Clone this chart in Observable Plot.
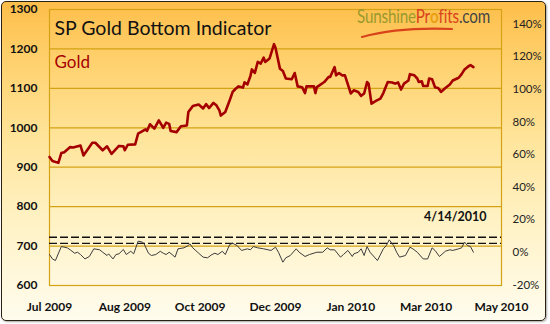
<!DOCTYPE html>
<html><head><meta charset="utf-8">
<script src="https://cdn.jsdelivr.net/npm/d3@7"></script>
<script src="https://cdn.jsdelivr.net/npm/@observablehq/plot@0.6"></script>
<style>
html,body{margin:0;padding:0;background:#fff;}
#wrap{position:relative;width:550px;height:324px;overflow:hidden;font-family:Lato,"Open Sans",sans-serif;}
#bg{position:absolute;left:1px;top:1px;width:543px;height:318px;border:1.5px solid #2b2110;border-radius:5px;
 background:linear-gradient(180deg,#FDBE4A 0%,#FFD270 20%,#FFE69E 45%,#FFF3C9 72%,#FFFCEE 100%);
 box-shadow:1px 1px 2px rgba(0,0,0,.35);}
#chart{position:absolute;left:0;top:0;}
#chart svg{overflow:visible;background:transparent;}
#logo{position:absolute;left:357px;top:6px;font-size:19px;line-height:20px;white-space:nowrap;transform:scaleX(0.8);transform-origin:left top;letter-spacing:-0.2px;}
#swoosh{position:absolute;left:360px;top:26px;}
</style></head>
<body><div id="wrap"><div id="bg"></div><div id="chart"></div>
<div id="logo"><span style="color:#9a9a2c">Sunshine</span><span style="color:#d8431c">Pr</span><span style="color:#e9a010;font-weight:bold">o</span><span style="color:#d8431c">fits</span><span style="color:#444">.com</span></div>
<svg id="swoosh" width="100" height="14"><path d="M2,11 Q38,1 92,3" fill="none" stroke="#d8431c" stroke-width="2.2" stroke-linecap="round"/></svg>
</div>
<script>
const goldDates = ["2009-07-01","2009-07-03","2009-07-07","2009-07-09","2009-07-11","2009-07-15","2009-07-17","2009-07-22","2009-07-24","2009-07-30","2009-08-01","2009-08-06","2009-08-09","2009-08-12","2009-08-17","2009-08-20","2009-08-21","2009-08-23","2009-08-28","2009-08-30","2009-09-04","2009-09-05","2009-09-07","2009-09-10","2009-09-13","2009-09-16","2009-09-18","2009-09-20","2009-09-21","2009-09-25","2009-09-28","2009-10-02","2009-10-03","2009-10-06","2009-10-10","2009-10-13","2009-10-15","2009-10-17","2009-10-20","2009-10-22","2009-10-24","2009-10-25","2009-10-28","2009-10-31","2009-11-02","2009-11-04","2009-11-06","2009-11-09","2009-11-10","2009-11-12","2009-11-14","2009-11-15","2009-11-17","2009-11-19","2009-11-21","2009-11-23","2009-11-24","2009-11-27","2009-11-30","2009-12-01","2009-12-04","2009-12-06","2009-12-08","2009-12-12","2009-12-14","2009-12-16","2009-12-19","2009-12-21","2009-12-22","2009-12-27","2009-12-28","2009-12-29","2010-01-03","2010-01-06","2010-01-07","2010-01-10","2010-01-11","2010-01-13","2010-01-15","2010-01-17","2010-01-21","2010-01-23","2010-01-26","2010-01-28","2010-01-30","2010-02-01","2010-02-02","2010-02-04","2010-02-07","2010-02-10","2010-02-12","2010-02-15","2010-02-18","2010-02-20","2010-02-22","2010-02-24","2010-02-26","2010-03-01","2010-03-02","2010-03-05","2010-03-07","2010-03-08","2010-03-10","2010-03-11","2010-03-14","2010-03-15","2010-03-17","2010-03-19","2010-03-21","2010-03-22","2010-03-23","2010-03-26","2010-03-29","2010-03-31","2010-04-04","2010-04-06","2010-04-08","2010-04-11","2010-04-12","2010-04-14"];
const goldValues = [926,916,911,936,938,951,950,955,930,962,962,943,953,934,954,953,943,957,958,985,996,992,1009,998,1019,1000,1013,1010,992,989,1004,1006,1040,1055,1059,1049,1060,1050,1063,1057,1044,1031,1040,1070,1091,1099,1105,1102,1115,1110,1131,1148,1139,1167,1163,1178,1167,1176,1212,1203,1150,1144,1125,1123,1139,1105,1103,1088,1105,1105,1088,1103,1116,1129,1129,1154,1133,1139,1133,1133,1087,1095,1091,1081,1087,1116,1112,1061,1068,1074,1088,1116,1115,1112,1115,1097,1112,1120,1136,1133,1125,1116,1118,1106,1106,1125,1123,1103,1101,1097,1091,1101,1110,1120,1127,1136,1148,1157,1159,1154];

const oscDates = ["2009-07-01","2009-07-03","2009-07-05","2009-07-09","2009-07-13","2009-07-15","2009-07-18","2009-07-20","2009-07-22","2009-07-25","2009-07-28","2009-07-31","2009-08-04","2009-08-06","2009-08-09","2009-08-10","2009-08-13","2009-08-15","2009-08-17","2009-08-20","2009-08-22","2009-08-25","2009-08-27","2009-08-30","2009-09-02","2009-09-03","2009-09-06","2009-09-08","2009-09-11","2009-09-14","2009-09-16","2009-09-18","2009-09-20","2009-09-22","2009-09-24","2009-09-26","2009-09-30","2009-10-03","2009-10-04","2009-10-06","2009-10-10","2009-10-13","2009-10-16","2009-10-19","2009-10-21","2009-10-23","2009-10-26","2009-10-28","2009-10-31","2009-11-02","2009-11-05","2009-11-08","2009-11-12","2009-11-14","2009-11-16","2009-11-19","2009-11-23","2009-11-28","2009-12-01","2009-12-03","2009-12-06","2009-12-08","2009-12-11","2009-12-15","2009-12-17","2009-12-21","2009-12-24","2009-12-29","2010-01-02","2010-01-05","2010-01-07","2010-01-10","2010-01-14","2010-01-16","2010-01-19","2010-01-22","2010-01-23","2010-01-26","2010-01-28","2010-01-30","2010-02-01","2010-02-03","2010-02-08","2010-02-12","2010-02-14","2010-02-16","2010-02-19","2010-02-21","2010-02-23","2010-02-27","2010-03-02","2010-03-04","2010-03-07","2010-03-11","2010-03-14","2010-03-17","2010-03-19","2010-03-22","2010-03-26","2010-03-29","2010-03-31","2010-04-04","2010-04-06","2010-04-08","2010-04-10","2010-04-12","2010-04-14"];
const oscValues = [-1.3,-4,-5,3.6,2.8,1.6,-0.5,0.1,-1.3,-4,-2.5,2.2,1.6,0.1,-1.9,-0.9,-4,-1.3,-0.9,1.8,-1.3,0.7,-0.9,6.9,6.3,5.3,-0.5,-1.9,-1.3,0.7,-0.5,-1.3,0.1,-1.3,-2.9,2.2,2.8,4.2,5.3,2.8,-0.5,-2.9,-3.3,-1.3,-0.5,-1.3,0.7,-1.3,4.8,5.6,4.2,1.2,2.2,1.6,3.6,2.8,2.2,1.2,3.2,0.1,-6,-3.3,-1.9,2.2,0.1,-2.5,-1.3,0.1,0.1,2.8,1.6,1.6,-2.9,-1.3,1.2,-2.5,-0.9,0.1,2.2,-1.9,3.6,0.1,-5,2.2,4.2,7.7,4.2,0.1,-2.9,-1.9,3.2,2.2,0.1,-4,-4,2.8,1.2,-2.5,0.7,1.6,1.2,2.2,2.8,6.3,4.2,3.6,0.1];

const thresholds = [9.3, 5.5];
const leftTicks = [600,700,800,900,1000,1100,1200,1300];
const rightTicks = [-20,0,20,40,60,80,100,120,140];
const xTickDates = ["2009-07-01","2009-08-21","2009-10-11","2009-12-01","2010-01-21","2010-03-13","2010-05-03"];
const xDomain = ["2009-07-01","2010-05-03"];
const title = "SP Gold Bottom Indicator";
const seriesLabel = "Gold";
const dateLabel = "4/14/2010";

// right axis (percent) expressed in left-axis units
const toGold = p => 600 + (p + 20.3) * 4.135;

const gold = goldDates.map((d,i)=>({date:new Date(d), v:goldValues[i]}));
const osc = oscDates.map((d,i)=>({date:new Date(d), v:toGold(oscValues[i])}));
const fmt = d3.utcFormat("%b %Y");
const grid = "#D6A215";

const chart = Plot.plot({
  width:550, height:324,
  marginLeft:49, marginRight:49, marginTop:9, marginBottom:39,
  style:{background:"transparent", fontFamily:"Lato, 'Open Sans', sans-serif", overflow:"visible"},
  x:{type:"utc", domain:xDomain.map(d=>new Date(d)), axis:null},
  y:{domain:[600,1300], axis:null},
  marks:[
    Plot.ruleY(leftTicks, {stroke:grid, strokeWidth:1.2}),
    Plot.frame({stroke:grid, strokeWidth:1.2}),
    Plot.ruleY(thresholds.map(toGold), {stroke:"#111", strokeWidth:1.3, strokeDasharray:"8,3"}),
    Plot.line(osc, {x:"date", y:"v", stroke:"#3c3c3c", strokeWidth:1}),
    Plot.line(gold, {x:"date", y:"v", stroke:"#A50000", strokeWidth:2.6, strokeLinejoin:"round"}),
    Plot.text(leftTicks, {y:d=>d, text:d=>String(d), frameAnchor:"left", dx:-12, textAnchor:"end", fontWeight:"bold", fontSize:12, fill:"#111"}),
    Plot.text(rightTicks, {y:d=>toGold(d), text:d=>d+"%", frameAnchor:"right", dx:11, textAnchor:"start", fontSize:11.5, fill:"#222"}),
    Plot.text(xTickDates, {x:d=>new Date(d), text:d=>fmt(new Date(d)), frameAnchor:"bottom", dy:22, lineAnchor:"middle", fontWeight:"bold", fontSize:12, fill:"#111"}),
    Plot.text([title], {text:d=>d, frameAnchor:"top-left", dx:5, dy:19, textAnchor:"start", lineAnchor:"middle", fontSize:19.5, fill:"#111"}),
    Plot.text([seriesLabel], {text:d=>d, frameAnchor:"top-left", dx:5, dy:53.5, textAnchor:"start", lineAnchor:"middle", fontSize:17, fill:"#A50000"}),
    Plot.text([dateLabel], {text:d=>d, frameAnchor:"top-right", dx:-15, dy:207, textAnchor:"end", lineAnchor:"middle", fontSize:12.5, fontWeight:"bold", fill:"#111"})
  ]
});
document.getElementById("chart").appendChild(chart);
</script></body></html>
